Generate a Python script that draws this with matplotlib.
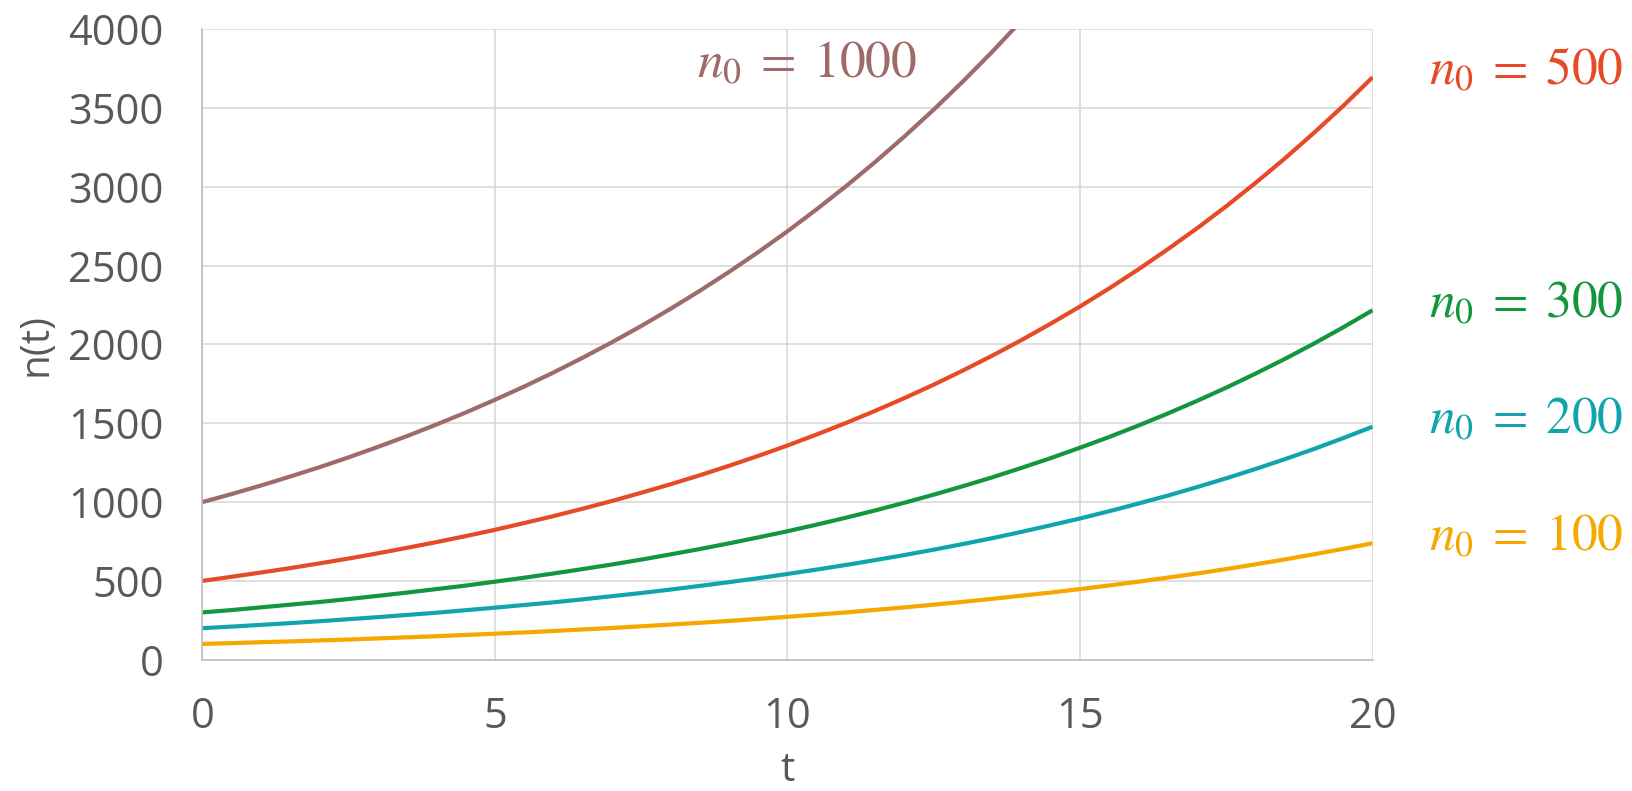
import numpy as np
import matplotlib.pyplot as plt

# 그림에서 읽어낸 값 (t = 0, 0.5, ..., 20)
t = [k * 0.5 for k in range(41)]
n_100 = [100, 105, 111, 116, 122, 128, 135, 142, 149, 157, 165, 173, 182, 192, 201, 212, 223, 234, 246, 259, 272,
         286, 300, 316, 332, 349, 367, 386, 406, 426, 448, 471, 495, 521, 547, 575, 605, 636, 669, 703, 739]
n_200 = [200, 210, 221, 232, 244, 257, 270, 284, 298, 314, 330, 347, 364, 383, 403, 423, 445, 468, 492, 517, 544,
         572, 601, 632, 664, 698, 734, 771, 811, 853, 896, 942, 991, 1041, 1095, 1151, 1210, 1272, 1337, 1406, 1478]
n_300 = [300, 315, 332, 349, 366, 385, 405, 426, 448, 470, 495, 520, 547, 575, 604, 635, 668, 702, 738, 776, 815,
         857, 901, 947, 996, 1047, 1101, 1157, 1217, 1279, 1345, 1413, 1486, 1562, 1642, 1726, 1815, 1908, 2006, 2109, 2217]
n_500 = [500, 526, 553, 581, 611, 642, 675, 710, 746, 784, 824, 867, 911, 958, 1007, 1059, 1113, 1170, 1230, 1293, 1359,
         1429, 1502, 1579, 1660, 1745, 1835, 1929, 2028, 2132, 2241, 2356, 2477, 2604, 2737, 2877, 3025, 3180, 3343, 3514, 3695]
n_1000 = [1000, 1051, 1105, 1162, 1221, 1284, 1350, 1419, 1492, 1568, 1649, 1733, 1822, 1916, 2014, 2117, 2226, 2340,
          2460, 2586, 2718, 2858, 3004, 3158, 3320, 3490, 3669, 3857, 4055]

labels = [r"$n_0\;=\;1000$", r"$n_0\;=\;500$", r"$n_0\;=\;300$", r"$n_0\;=\;200$", r"$n_0\;=\;100$"]
colors = ["#9E6A6A", "#E64A27", "#12973D", "#10A5AC", "#F6A800"]

plt.rcParams["mathtext.fontset"] = "stix"
plt.rcParams["font.family"] = ["Open Sans", "DejaVu Sans"]

fig = plt.figure(figsize=(16.32, 7.91), dpi=100)
ax = fig.add_axes([0.124, 0.166, 0.717, 0.797])

series = [n_1000, n_500, n_300, n_200, n_100]
for vals, c in zip(series, colors):
    ax.plot(t[:len(vals)], vals, color=c, lw=3, solid_capstyle="butt")

ax.set_xlim(0, 20)
ax.set_ylim(0, 4000)
ax.set_xticks([0, 5, 10, 15, 20])
ax.set_yticks(range(0, 4001, 500))
ax.grid(True, color="#D9D9D9", lw=1.2)
ax.set_axisbelow(True)
for s in ax.spines.values():
    s.set_visible(False)
for side in ("left", "bottom"):
    ax.spines[side].set_visible(True)
    ax.spines[side].set_color("#BFBFBF")
    ax.spines[side].set_linewidth(1.2)
ax.tick_params(length=0, labelsize=30, labelcolor="#595959", pad=28)
ax.tick_params(axis="x", pad=26)
ax.set_xlabel("t", fontsize=29, color="#595959", labelpad=9)
ax.set_ylabel("n(t)", fontsize=29, color="#595959", labelpad=8)

# 곡선 라벨
ax.text(8.45, 3780, labels[0], color=colors[0], fontsize=37, va="center", ha="left")
for lab, c, vals in zip(labels[1:], colors[1:], series[1:]):
    ax.text(1.048, vals[-1] + 40, lab, color=c, fontsize=37, va="center", ha="left",
            transform=ax.get_yaxis_transform(), clip_on=False)

fig.savefig("out.png", dpi=100)
